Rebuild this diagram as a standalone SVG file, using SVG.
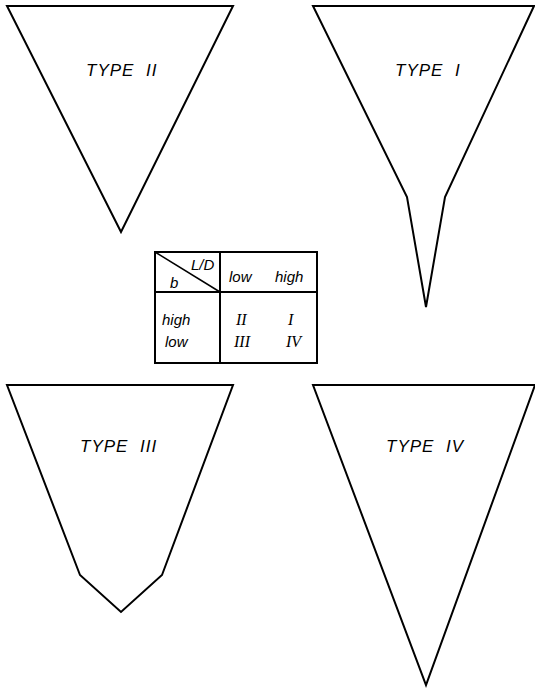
<svg xmlns="http://www.w3.org/2000/svg" width="535" height="690" viewBox="0 0 535 690">
<style>
.s{fill:none;stroke:#000;stroke-width:2;stroke-linejoin:miter}
.t{font-family:"Liberation Sans",Arial,sans-serif;font-style:italic;font-size:17px;letter-spacing:1px;word-spacing:6px;fill:#000}
.c{font-family:"Liberation Sans",Arial,sans-serif;font-style:italic;font-size:15px;fill:#000}
.r{font-family:"Liberation Serif","Times New Roman",serif;font-style:italic;font-size:16px;fill:#000}
</style>
<rect width="535" height="690" fill="#fff"/>
<g id="type2">
<polygon class="s" points="7,6 233,6 121,232"/>
<text class="t" x="86" y="76">TYPE II</text>
</g>
<g id="type1">
<polygon class="s" points="313,6 534,6 445,197 426,307 407,197"/>
<text class="t" x="395" y="76">TYPE I</text>
</g>
<g id="type3">
<polygon class="s" points="7,385 233,385 162,575 121,612 80,575"/>
<text class="t" x="80" y="452">TYPE III</text>
</g>
<g id="type4">
<polygon class="s" points="313,385 535,385 426,685"/>
<text class="t" x="386" y="452">TYPE IV</text>
</g>
<g id="table">
<rect class="s" x="155" y="252" width="162" height="111"/>
<line class="s" x1="220" y1="252" x2="220" y2="363"/>
<line class="s" x1="155" y1="292" x2="317" y2="292"/>
<line class="s" x1="155" y1="252" x2="220" y2="292" style="stroke-width:1.5"/>
<text class="c" x="191" y="270">L/D</text>
<text class="c" x="170" y="288">b</text>
<text class="c" x="229" y="282">low</text>
<text class="c" x="275" y="282">high</text>
<text class="c" x="162" y="325">high</text>
<text class="c" x="165" y="347">low</text>
<text class="r" x="236" y="325">II</text>
<text class="r" x="288" y="325">I</text>
<text class="r" x="234" y="347">III</text>
<text class="r" x="286" y="347">IV</text>
</g>
</svg>
